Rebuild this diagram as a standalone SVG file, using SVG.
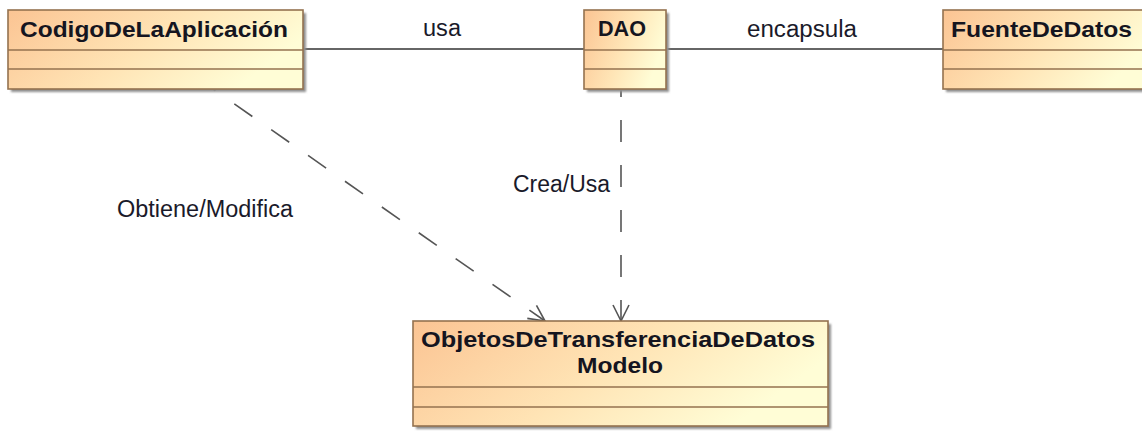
<svg xmlns="http://www.w3.org/2000/svg" width="1142" height="431" viewBox="0 0 1142 431">
  <defs>
    <linearGradient id="classFill" x1="0" y1="0" x2="1" y2="0.35">
      <stop offset="0" stop-color="#FBC493"/>
      <stop offset="0.55" stop-color="#FFE4B5"/>
      <stop offset="1" stop-color="#FFFDD6"/>
    </linearGradient>
    <filter id="shadowBlur" x="-5%" y="-10%" width="110%" height="120%">
      <feGaussianBlur stdDeviation="1.2"/>
    </filter>
    <marker id="openArrow" viewBox="0 0 20 20" refX="18" refY="10" markerWidth="20" markerHeight="20" markerUnits="userSpaceOnUse" orient="auto">
      <path d="M2,2 L18,10 L2,18" fill="none" stroke="#555" stroke-width="1.6"/>
    </marker>
    <style>
      .shadow { fill: #8f8f8f; filter: url(#shadowBlur); }
      .box { fill: url(#classFill); stroke: #94724F; stroke-width: 1.6; }
      .sep { stroke: #94724F; stroke-width: 1.4; }
      .title { font-family: "Liberation Sans", Arial, sans-serif; font-weight: bold; font-size: 22px; fill: #15151f; }
      .label { font-family: "Liberation Sans", Arial, sans-serif; font-size: 23px; fill: #1a1a2a; }
      .assoc { stroke: #333; stroke-width: 1.5; fill: none; }
      .dep { stroke: #555; stroke-width: 1.6; fill: none; stroke-dasharray: 22 23; marker-end: url(#openArrow); }
    </style>
  </defs>

  <!-- connectors -->
  <g id="connectors">
    <line class="assoc" x1="303" y1="49" x2="584" y2="49"/>
    <line class="assoc" x1="666" y1="49" x2="943" y2="49"/>
    <path class="dep" d="M213,89 L545,321" stroke-dashoffset="19"/>
    <path class="dep" d="M621,89 L621,321" stroke-dashoffset="14"/>
    <text class="label" x="423" y="36" textLength="38" lengthAdjust="spacingAndGlyphs">usa</text>
    <text class="label" x="747" y="37" textLength="110" lengthAdjust="spacingAndGlyphs">encapsula</text>
    <text class="label" x="513" y="192" textLength="97" lengthAdjust="spacingAndGlyphs">Crea/Usa</text>
    <text class="label" x="117" y="217" textLength="176" lengthAdjust="spacingAndGlyphs">Obtiene/Modifica</text>
  </g>

  <!-- class CodigoDeLaAplicación -->
  <g id="codigo-aplicacion">
    <rect class="shadow" x="11" y="13" width="295" height="79"/>
    <rect class="box" x="8" y="10" width="295" height="79"/>
    <line class="sep" x1="8" y1="50" x2="303" y2="50"/>
    <line class="sep" x1="8" y1="69" x2="303" y2="69"/>
    <text class="title" x="20" y="37" textLength="268" lengthAdjust="spacingAndGlyphs">CodigoDeLaAplicación</text>
  </g>

  <!-- class DAO -->
  <g id="dao">
    <rect class="shadow" x="587" y="13" width="82" height="79"/>
    <rect class="box" x="584" y="10" width="82" height="79"/>
    <line class="sep" x1="584" y1="50" x2="666" y2="50"/>
    <line class="sep" x1="584" y1="69" x2="666" y2="69"/>
    <text class="title" x="598" y="36" textLength="48" lengthAdjust="spacingAndGlyphs">DAO</text>
  </g>

  <!-- class FuenteDeDatos -->
  <g id="fuente-datos">
    <rect class="shadow" x="946" y="13" width="210" height="79"/>
    <rect class="box" x="943" y="10" width="210" height="79"/>
    <line class="sep" x1="943" y1="50" x2="1153" y2="50"/>
    <line class="sep" x1="943" y1="69" x2="1153" y2="69"/>
    <text class="title" x="951" y="37" textLength="181" lengthAdjust="spacingAndGlyphs">FuenteDeDatos</text>
  </g>

  <!-- class ObjetosDeTransferenciaDeDatos / Modelo -->
  <g id="objetos-transferencia">
    <rect class="shadow" x="416" y="324" width="415" height="105"/>
    <rect class="box" x="413" y="321" width="415" height="105"/>
    <line class="sep" x1="413" y1="387" x2="828" y2="387"/>
    <line class="sep" x1="413" y1="407" x2="828" y2="407"/>
    <text class="title" x="421" y="347" textLength="394" lengthAdjust="spacingAndGlyphs">ObjetosDeTransferenciaDeDatos</text>
    <text class="title" x="577" y="373" textLength="86" lengthAdjust="spacingAndGlyphs">Modelo</text>
  </g>
</svg>
